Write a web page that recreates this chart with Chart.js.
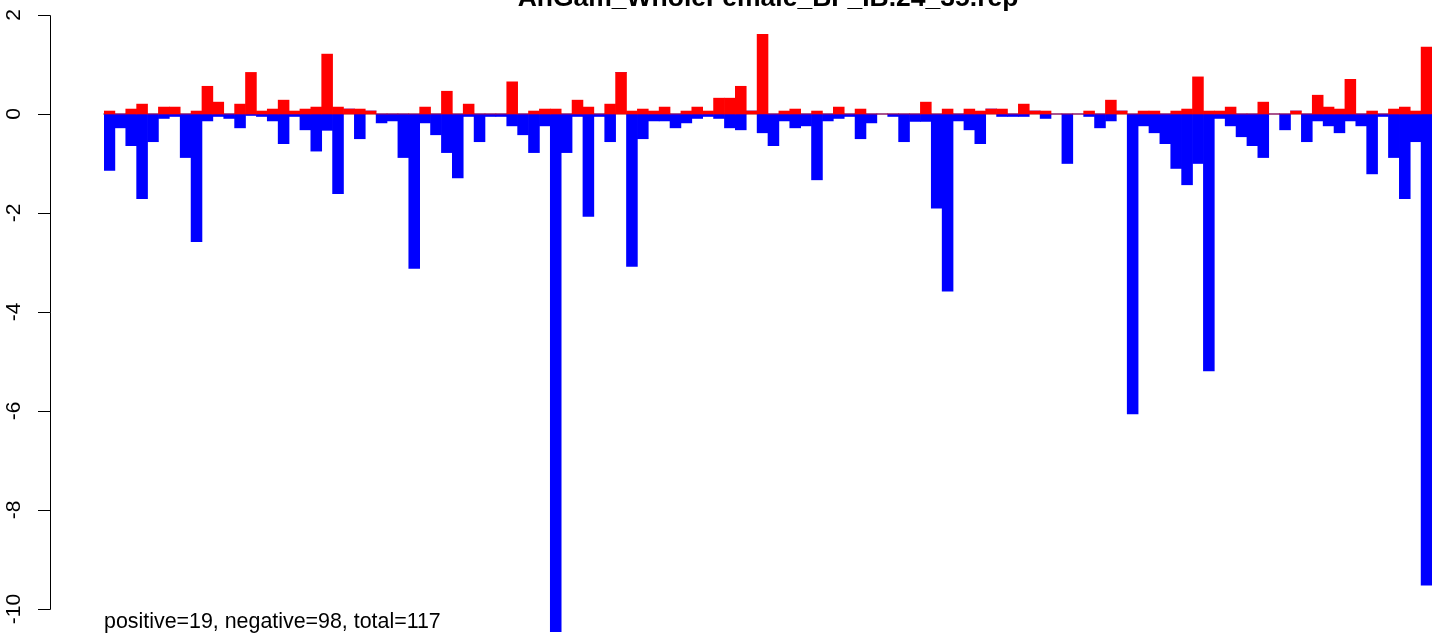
<!DOCTYPE html>
<html><head><meta charset="utf-8">
<script src="https://cdn.jsdelivr.net/npm/chart.js@4/dist/chart.umd.min.js"></script>
<style>html,body{margin:0;padding:0;background:#fff;}#wrap{position:relative;width:1441px;height:634px;}</style>
</head><body><div id="wrap"><canvas id="c" width="1441" height="634"></canvas></div>
<script>
const titleText = "AnGam_WholeFemale_BF_IB.24_35.rep";
const footerText = "positive=19, negative=98, total=117";
const categories = ["1","2","3","4","5","6","7","8","9","10","11","12","13","14","15","16","17","18","19","20",
"21","22","23","24","25","26","27","28","29","30","31","32","33","34","35","36","37","38","39","40",
"41","42","43","44","45","46","47","48","49","50","51","52","53","54","55","56","57","58","59","60",
"61","62","63","64","65","66","67","68","69","70","71","72","73","74","75","76","77","78","79","80",
"81","82","83","84","85","86","87","88","89","90","91","92","93","94","95","96","97","98","99","100",
"101","102","103","104","105","106","107","108","109","110","111","112","113","114","115","116","117","118","119","120",
"121","122"];
const positiveValues = [
0.06,0,0.10,0.20,0,0.14,0.14,0,0.06,0.56,
0.24,0,0.20,0.84,0.06,0.10,0.28,0.06,0.10,0.14,
1.21,0.14,0.10,0.10,0.06,0,0,0,0,0.14,
0,0.46,0,0.20,0,0,0,0.65,0,0.06,
0.10,0.10,0,0.28,0.14,0,0.20,0.84,0.06,0.10,
0.06,0.14,0,0.06,0.14,0.06,0.32,0.32,0.56,0.06,
1.61,0,0.06,0.10,0,0.06,0,0.14,0,0.10,
0,0,0,0,0,0.24,0,0.10,0,0.10,
0.06,0.10,0.10,0,0.20,0.06,0.06,0,0,0,
0.06,0,0.28,0.06,0,0.06,0.06,0,0.06,0.10,
0.75,0.06,0.06,0.14,0,0,0.24,0,0,0.06,
0,0.38,0.14,0.10,0.70,0,0.06,0,0.10,0.14,
0.06,1.35];
const negativeValues = [
-1.14,-0.28,-0.64,-1.71,-0.56,-0.09,-0.05,-0.88,-2.58,-0.14,
-0.05,-0.09,-0.28,-0.03,-0.05,-0.14,-0.60,-0.05,-0.32,-0.75,
-0.33,-1.61,0,-0.50,0,-0.18,-0.14,-0.88,-3.12,-0.18,
-0.42,-0.78,-1.29,-0.05,-0.56,-0.05,-0.05,-0.24,-0.42,-0.78,
-0.24,-10.46,-0.78,-0.05,-2.07,-0.05,-0.56,0,-3.08,-0.50,
-0.14,-0.14,-0.28,-0.18,-0.09,-0.05,-0.09,-0.28,-0.32,0,
-0.38,-0.64,-0.14,-0.28,-0.24,-1.33,-0.14,-0.09,-0.05,-0.50,
-0.18,0,-0.05,-0.56,-0.15,-0.15,-1.90,-3.58,-0.14,-0.32,
-0.60,0,-0.05,-0.05,-0.05,0,-0.09,0,-1.00,0,
-0.05,-0.28,-0.14,0,-6.06,-0.24,-0.38,-0.60,-1.10,-1.43,
-1.00,-5.19,-0.09,-0.24,-0.46,-0.64,-0.88,0,-0.32,0,
-0.56,-0.14,-0.24,-0.38,-0.14,-0.24,-1.21,-0.05,-0.88,-1.71,
-0.56,-9.52];
const yTickValues = [2,0,-2,-4,-6,-8,-10];
const yTickLabels = ["2","0","-2","-4","-6","-8","-10"];

const rStylePlugin = {
  id: 'rStyle',
  beforeDatasetsDraw(chart) {
    const ctx = chart.ctx, ys = chart.scales.y, a = chart.chartArea;
    const py = ys.getPixelForValue(0);
    ctx.save();
    ctx.strokeStyle = '#BEBEBE'; ctx.lineWidth = 2;
    ctx.beginPath(); ctx.moveTo(a.left - 1, py); ctx.lineTo(a.right, py); ctx.stroke();
    ctx.restore();
  },
  afterDraw(chart) {
    const ctx = chart.ctx, ys = chart.scales.y, a = chart.chartArea;
    const axX = 50;
    const top = Math.round(ys.getPixelForValue(yTickValues[0])) + 0.5;
    const bot = Math.round(ys.getPixelForValue(yTickValues[yTickValues.length - 1])) + 0.5;
    ctx.save();
    ctx.strokeStyle = '#000'; ctx.lineWidth = 1;
    ctx.beginPath();
    ctx.moveTo(axX + 0.5, top); ctx.lineTo(axX + 0.5, bot);
    yTickValues.forEach(v => {
      const p = Math.round(ys.getPixelForValue(v)) + 0.5;
      ctx.moveTo(axX - 12, p); ctx.lineTo(axX + 0.5, p);
    });
    ctx.stroke();
    ctx.fillStyle = '#000';
    ctx.font = '21px "Liberation Sans", Arial, sans-serif';
    ctx.textAlign = 'center'; ctx.textBaseline = 'alphabetic';
    yTickValues.forEach((v, i) => {
      const p = ys.getPixelForValue(v);
      ctx.save(); ctx.translate(20, p); ctx.rotate(-Math.PI / 2);
      ctx.fillText(yTickLabels[i], 0, 0);
      ctx.restore();
    });
    ctx.font = 'bold 26.5px "Liberation Sans", Arial, sans-serif';
    ctx.textAlign = 'center';
    ctx.fillText(titleText, (a.left + a.right) / 2, 6);
    ctx.font = '21.4px "Liberation Sans", Arial, sans-serif';
    ctx.textAlign = 'left';
    ctx.fillText(footerText, 104, 628);
    ctx.restore();
  }
};

new Chart(document.getElementById('c'), {
  type: 'bar',
  data: {
    labels: categories,
    datasets: [
      { label: 'positive', data: positiveValues, backgroundColor: '#FF0000', borderWidth: 0, barPercentage: 1, categoryPercentage: 1 },
      { label: 'negative', data: negativeValues, backgroundColor: '#0000FF', borderWidth: 0, barPercentage: 1, categoryPercentage: 1 }
    ]
  },
  options: {
    responsive: false,
    devicePixelRatio: 1,
    animation: false,
    layout: { padding: { left: 104, right: 9, top: 0, bottom: 0 } },
    plugins: { legend: { display: false }, tooltip: { enabled: false }, title: { display: false } },
    scales: {
      x: { display: false, stacked: true, offset: true },
      y: { display: false, stacked: true, min: -10.505, max: 2.303 }
    }
  },
  plugins: [rStylePlugin]
});
</script>
</body></html>
